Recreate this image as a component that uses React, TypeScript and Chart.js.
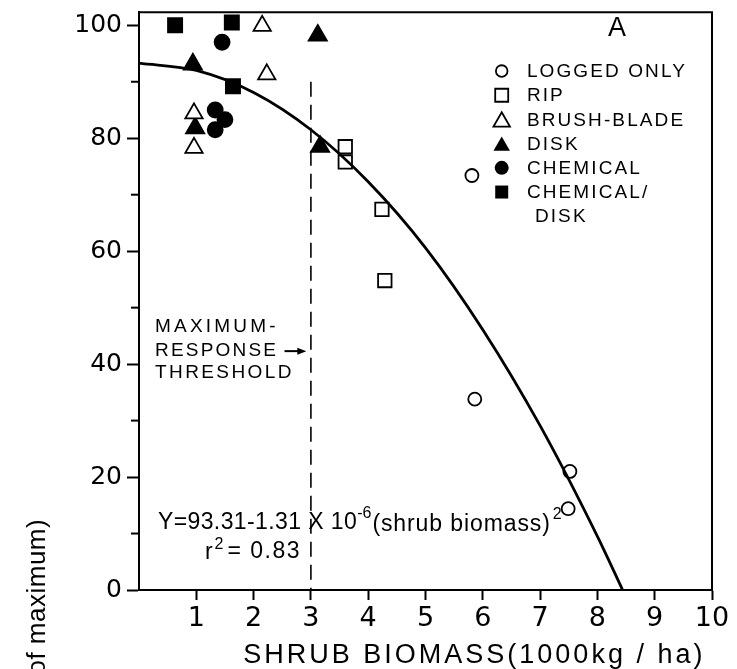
import React, { useEffect, useRef } from "react";
import { Chart, registerables } from "chart.js";

Chart.register(...registerables);

// ---- data ----
const loggedOnlyX = [5.81, 5.86, 7.52, 7.49];
const loggedOnlyY = [73.4, 33.8, 21.0, 14.4];

const ripX = [3.6, 3.6, 4.24, 4.29];
const ripY = [78.5, 75.8, 67.4, 54.8];

const brushBladeX = [2.15, 2.23, 0.96, 0.96];
const brushBladeY = [99.9, 91.3, 84.4, 78.3];

const diskX = [0.94, 0.98, 3.12, 3.16];
const diskY = [93.1, 81.8, 98.2, 78.5];

const chemicalX = [1.45, 1.33, 1.5, 1.33];
const chemicalY = [97.0, 85.0, 83.3, 81.5];

const chemDiskX = [0.63, 1.62, 1.64];
const chemDiskY = [100.0, 100.5, 89.2];

const fitCurveX = [0, 1, 2, 3, 4, 5, 6, 7, 8, 8.44];
const fitCurveY = [93.3, 92.0, 88.1, 81.5, 72.3, 60.6, 46.1, 29.1, 9.5, 0];

const thresholdX = [3, 3];
const thresholdY = [90, 0];

const xTickValues = [1, 2, 3, 4, 5, 6, 7, 8, 9, 10];
const yTickValues = [0, 20, 40, 60, 80, 100];
const yMinorTickValues = [10, 30, 50, 70, 90];

const legendLabels = ["LOGGED ONLY", "RIP", "BRUSH-BLADE", "DISK", "CHEMICAL", "CHEMICAL/"];
const legendStyles = ["openCircle", "openRect", "openTriangle", "triangle", "circle", "rect"];

const X_MIN = 0;
const X_MAX = 10;
const Y_MIN = 0;
const Y_MAX = 102.3;

const pts = (xs: number[], ys: number[]) => xs.map((x, i) => ({ x, y: ys[i] }));

const TEXT_FONT = "'Liberation Sans', Arial, sans-serif";
const TICK_FONT = "'DejaVu Sans', sans-serif";

function drawText(
  ctx: CanvasRenderingContext2D,
  s: string,
  x: number,
  y: number,
  size: number,
  family: string,
  spacing = 0,
  align: CanvasTextAlign = "left",
  baseline: CanvasTextBaseline = "middle"
) {
  ctx.font = `${size}px ${family}`;
  (ctx as any).letterSpacing = `${spacing}px`;
  ctx.textAlign = align;
  ctx.textBaseline = baseline;
  ctx.fillText(s, x, y);
  const w = ctx.measureText(s).width;
  (ctx as any).letterSpacing = "0px";
  return w;
}

function drawMarker(ctx: CanvasRenderingContext2D, style: string, x: number, y: number) {
  ctx.save();
  ctx.lineWidth = 1.8;
  ctx.strokeStyle = "#000";
  ctx.fillStyle = "#000";
  ctx.beginPath();
  if (style === "openCircle" || style === "circle") {
    ctx.arc(x, y, style === "circle" ? 7 : 5.8, 0, Math.PI * 2);
  } else if (style === "openRect" || style === "rect") {
    const h = 6.5;
    ctx.rect(x - h, y - h, 2 * h, 2 * h);
  } else {
    const r = 9.5;
    const cy = y + r * 0.25;
    ctx.moveTo(x, cy - r);
    ctx.lineTo(x + r * 0.866, cy + r * 0.5);
    ctx.lineTo(x - r * 0.866, cy + r * 0.5);
    ctx.closePath();
  }
  if (style.startsWith("open")) {
    ctx.fillStyle = "#fff";
    ctx.fill();
    ctx.stroke();
  } else {
    ctx.fill();
  }
  ctx.restore();
}

const annotationPlugin = {
  id: "figureAnnotations",
  afterDatasetsDraw(chart: any) {
    const ctx: CanvasRenderingContext2D = chart.ctx;
    const xs = chart.scales.x;
    const ys = chart.scales.y;
    const area = chart.chartArea;
    const px = (v: number) => xs.getPixelForValue(v);
    const py = (v: number) => ys.getPixelForValue(v);
    ctx.save();
    ctx.fillStyle = "#000";
    ctx.strokeStyle = "#000";

    // frame (top & right)
    ctx.lineWidth = 2;
    ctx.beginPath();
    ctx.moveTo(area.left, area.top);
    ctx.lineTo(area.right, area.top);
    ctx.lineTo(area.right, area.bottom);
    ctx.stroke();

    // minor y ticks
    ctx.lineWidth = 2;
    yMinorTickValues.forEach((v) => {
      const y = py(v);
      ctx.beginPath();
      ctx.moveTo(area.left - 8, y);
      ctx.lineTo(area.left, y);
      ctx.stroke();
    });

    // panel letter
    drawText(ctx, "A", px(8.34), py(99.5), 27, TEXT_FONT, 0, "center");

    // legend
    const lx = px(6.33);
    const tx = px(6.77);
    let ly = py(91.9);
    const step = 24.2;
    legendLabels.forEach((lab, i) => {
      drawMarker(ctx, legendStyles[i], lx, ly);
      drawText(ctx, lab, tx, ly + 1, 19, TEXT_FONT, 2.1);
      ly += step;
    });
    drawText(ctx, "DISK", tx + 8, ly + 1, 19, TEXT_FONT, 2.1);

    // maximum response threshold note
    const nx = px(0.28);
    drawText(ctx, "MAXIMUM-", nx, py(46.7), 19, TEXT_FONT, 3.2);
    drawText(ctx, "RESPONSE", nx, py(42.3), 19, TEXT_FONT, 2.2);
    drawText(ctx, "THRESHOLD", nx, py(38.4), 19, TEXT_FONT, 2.4);
    // arrow
    const ay = py(42.3);
    const ax0 = px(2.54);
    const ax1 = px(2.92);
    ctx.lineWidth = 2;
    ctx.beginPath();
    ctx.moveTo(ax0, ay);
    ctx.lineTo(ax1 - 6, ay);
    ctx.stroke();
    ctx.beginPath();
    ctx.moveTo(ax1, ay);
    ctx.lineTo(ax1 - 9, ay - 3.5);
    ctx.lineTo(ax1 - 9, ay + 3.5);
    ctx.closePath();
    ctx.fill();

    // regression equation
    let ex = px(0.33);
    const ey = py(12.0);
    ex += drawText(ctx, "Y=93.31-1.31 X 10", ex, ey, 23, TEXT_FONT, 0.4);
    ex += drawText(ctx, "-6", ex, ey - 9, 16, TEXT_FONT, 0);
    ex += drawText(ctx, "(shrub biomass)", ex + 1, ey + 2, 23, TEXT_FONT, 0.9) + 3;
    drawText(ctx, "2", ex, ey - 8, 16, TEXT_FONT, 0);

    let rx = px(1.15);
    const ry = py(7.0);
    rx += drawText(ctx, "r", rx, ry + 2, 23, TEXT_FONT, 0);
    rx += drawText(ctx, "2", rx + 2, ry - 6, 16, TEXT_FONT, 0) + 4;
    drawText(ctx, "= 0.83", rx + 2, ry + 1, 23, TEXT_FONT, 1.5);

    // x-axis title
    drawText(ctx, "SHRUB BIOMASS(1000kg / ha)", px(1.82), area.bottom + 66, 27, TEXT_FONT, 3.0);

    // y-axis title (mostly outside the figure)
    ctx.save();
    ctx.translate(45, py(12.6));
    ctx.rotate(-Math.PI / 2);
    drawText(ctx, "(% of maximum)", 0, 0, 26, TEXT_FONT, 0.5, "right", "alphabetic");
    ctx.restore();

    ctx.restore();
  },
};

export default function App() {
  const ref = useRef<HTMLCanvasElement | null>(null);

  useEffect(() => {
    if (!ref.current) return;
    const pointBase = { showLine: false, borderColor: "#000", borderWidth: 1.8 };
    const chart = new Chart(ref.current, {
      type: "scatter",
      data: {
        datasets: [
          {
            type: "line",
            label: "threshold",
            data: pts(thresholdX, thresholdY),
            borderColor: "#000",
            borderWidth: 1.6,
            borderDash: [15, 8],
            pointRadius: 0,
            showLine: true,
          } as any,
          {
            type: "line",
            label: "fit",
            data: pts(fitCurveX, fitCurveY),
            borderColor: "#000",
            borderWidth: 2.8,
            pointRadius: 0,
            showLine: true,
            cubicInterpolationMode: "monotone",
          } as any,
          {
            ...pointBase,
            label: "LOGGED ONLY",
            data: pts(loggedOnlyX, loggedOnlyY),
            pointStyle: "circle",
            pointRadius: 6.5,
            backgroundColor: "#fff",
          },
          {
            ...pointBase,
            label: "RIP",
            data: pts(ripX, ripY),
            pointStyle: "rect",
            pointRadius: 9.5,
            backgroundColor: "#fff",
          },
          {
            ...pointBase,
            label: "BRUSH-BLADE",
            data: pts(brushBladeX, brushBladeY),
            pointStyle: "triangle",
            pointRadius: 10,
            backgroundColor: "#fff",
          },
          {
            ...pointBase,
            label: "DISK",
            data: pts(diskX, diskY),
            pointStyle: "triangle",
            pointRadius: 10.5,
            backgroundColor: "#000",
          },
          {
            ...pointBase,
            label: "CHEMICAL",
            data: pts(chemicalX, chemicalY),
            pointStyle: "circle",
            pointRadius: 7.5,
            backgroundColor: "#000",
          },
          {
            ...pointBase,
            label: "CHEMICAL/DISK",
            data: pts(chemDiskX, chemDiskY),
            pointStyle: "rect",
            pointRadius: 10,
            backgroundColor: "#000",
          },
        ],
      },
      options: {
        responsive: false,
        animation: false,
        devicePixelRatio: 1,
        layout: { padding: { left: 0, top: 9, right: 25, bottom: 0 } },
        plugins: { legend: { display: false }, tooltip: { enabled: false } },
        scales: {
          x: {
            type: "linear",
            min: X_MIN,
            max: X_MAX,
            ticks: {
              stepSize: 1,
              color: "#000",
              font: { family: TICK_FONT, size: 27 },
              padding: 3,
              maxRotation: 0,
              callback: (v: any) => String(v),
            },
            afterBuildTicks: (scale: any) => {
              scale.ticks = xTickValues.map((v) => ({ value: v }));
            },
            afterFit: (scale: any) => {
              scale.height = 79;
              scale.paddingLeft = 0;
              scale.paddingRight = 0;
            },
            grid: { drawOnChartArea: false, drawTicks: true, tickLength: 10, tickWidth: 2, tickColor: "#000" },
            border: { display: true, color: "#000", width: 2 },
          },
          y: {
            type: "linear",
            min: Y_MIN,
            max: Y_MAX,
            ticks: {
              stepSize: 20,
              color: "#000",
              font: { family: TICK_FONT, size: 25 },
              padding: 5,
              callback: (v: any) => String(v),
            },
            afterBuildTicks: (scale: any) => {
              scale.ticks = yTickValues.map((v) => ({ value: v }));
            },
            afterFit: (scale: any) => {
              scale.width = 139;
              scale.paddingTop = 0;
              scale.paddingBottom = 0;
            },
            grid: { drawOnChartArea: false, drawTicks: true, tickLength: 12, tickWidth: 2, tickColor: "#000" },
            border: { display: true, color: "#000", width: 2 },
          },
        },
      },
      plugins: [annotationPlugin],
    } as any);
    return () => chart.destroy();
  }, []);

  return (
    <div style={{ position: "fixed", left: 0, top: 0, width: 737, height: 669, background: "#fff" }}>
      <canvas ref={ref} width={737} height={669} style={{ display: "block" }} />
    </div>
  );
}
